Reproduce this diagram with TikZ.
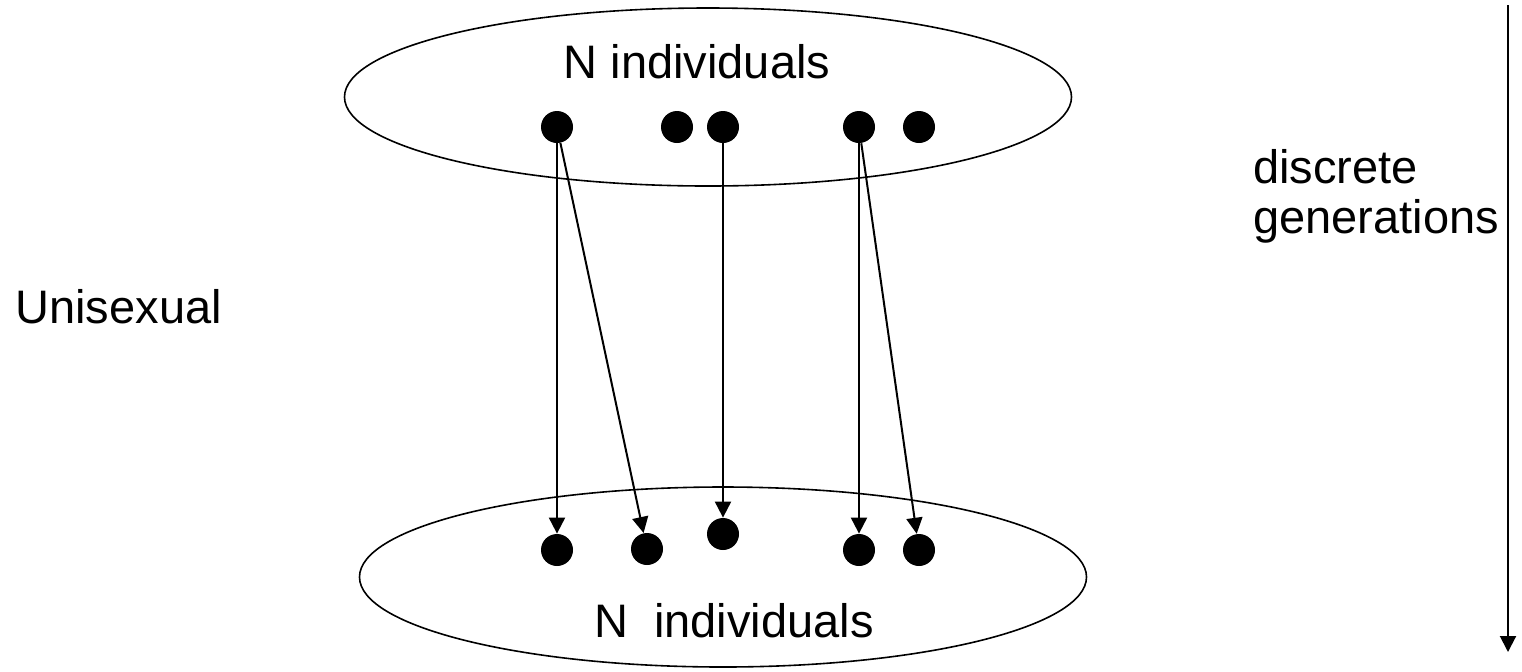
\documentclass[tikz,border=0pt]{standalone}
\usepackage{fontspec}
\setmainfont{Liberation Sans}
\usetikzlibrary{arrows.meta,shapes.geometric}

\begin{document}
\begin{tikzpicture}[x=0.5pt,y=-0.5pt,
    indiv/.style={circle, fill=black, inner sep=0pt, minimum size=16pt},
    pop/.style={ellipse, draw, line width=0.8pt, inner sep=0pt},
    descent/.style={line width=1pt, -{Triangle[length=8pt,width=8pt]}},
    lbl/.style={font=\fontsize{23.5}{25}\selectfont, inner sep=0pt}]
  \useasboundingbox (0,0) rectangle (1522,671);

  % the two generations
  \node[pop, minimum width=363.5pt, minimum height=89pt] (oldGen) at (708,97) {};
  \node[pop, minimum width=363.5pt, minimum height=90pt] (newGen) at (723,577) {};
  \node[lbl, anchor=base] (oldLbl) at (697,78) {N individuals};
  \node[lbl, anchor=base] (newLbl) at (734,637) {N\ \ individuals};

  % parents
  \node[indiv] (p1) at (557,127) {};
  \node[indiv] (p2) at (677,127) {};
  \node[indiv] (p3) at (723,127) {};
  \node[indiv] (p4) at (859,127) {};
  \node[indiv] (p5) at (919,127) {};
  % offspring
  \node[indiv] (c1) at (557,550) {};
  \node[indiv] (c2) at (647,549) {};
  \node[indiv] (c3) at (723,534) {};
  \node[indiv] (c4) at (859,550) {};
  \node[indiv] (c5) at (919,550) {};

  \draw[descent] (p1) -- (c1);
  \draw[descent] (p1) -- (c2);
  \draw[descent] (p3) -- (c3);
  \draw[descent] (p4) -- (c4);
  \draw[descent] (p4) -- (c5);

  \node[lbl, anchor=base west] (modeLbl) at (15,323) {Unisexual};
  \node[lbl, anchor=base west, align=left] (genLbl) at (1253,233)
    {discrete\\generations};

  \coordinate (timeTop) at (1508,5);
  \coordinate (timeEnd) at (1508,652);
  \draw[descent] (timeTop) -- (timeEnd);
\end{tikzpicture}
\end{document}
